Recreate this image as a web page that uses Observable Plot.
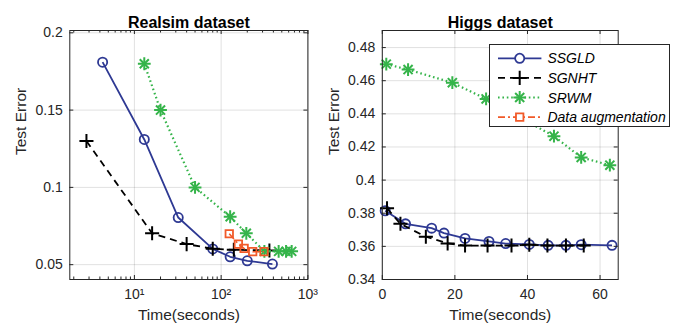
<!DOCTYPE html>
<html><head><meta charset="utf-8">
<script src="https://cdn.jsdelivr.net/npm/d3@7"></script>
<script src="https://cdn.jsdelivr.net/npm/@observablehq/plot@0.6"></script>
<style>
body{margin:0;background:#fff;}
#wrap{position:relative;width:679px;height:331px;font-family:"Liberation Sans",Arial,sans-serif;overflow:hidden;}
#wrap .p{position:absolute;top:0;}
#legend{position:absolute;left:489px;top:44px;}
</style></head><body><div id="wrap"></div>
<script>
// ---------- data ----------
const seriesNames = ["SSGLD", "SGNHT", "SRWM", "Data augmentation"];

// Realsim dataset: [time (s), test error]
const realsimSSGLD   = [[4.3,0.181],[13,0.131],[32,0.0805],[80,0.0602],[127,0.0551],[200,0.0525],[390,0.0504]];
const realsimSGNHT   = [[2.8,0.13],[16,0.0703],[40,0.0633],[80,0.0603],[140,0.0596],[360,0.0592]];
const realsimSRWM    = [[13,0.18],[20,0.15],[50,0.1],[127,0.081],[195,0.0703],[315,0.0586],[460,0.0586],[560,0.0586],[650,0.0586]];
const realsimDataAug = [[124,0.07],[158,0.0633],[184,0.0605],[231,0.0584],[312,0.0584]];

// Higgs dataset: [time (s), test error]
const higgsSSGLD = [[0.8,0.3815],[6.4,0.3736],[13.6,0.371],[17,0.368],[22.8,0.3648],[29.4,0.363],[34,0.3617],[40.5,0.3612],[45.7,0.3606],[50.6,0.3606],[54.8,0.361],[63.3,0.3606]];
const higgsSGNHT = [[1.3,0.383],[5,0.3736],[12,0.3658],[18,0.3618],[22.8,0.3605],[29,0.3605],[35.6,0.3605],[40.5,0.361],[45.5,0.3605],[50.6,0.3605],[55.5,0.3605]];
const higgsSRWM  = [[1.1,0.470],[7.1,0.4667],[19.3,0.4588],[28.6,0.449],[47.3,0.4265],[54.8,0.4137],[62.7,0.409]];

// ticks
const xMajorRealsim = [10, 100, 1000];
const xMinorRealsim = [2,3,4,5,6,7,8,9,20,30,40,50,60,70,80,90,200,300,400,500,600,700,800,900];
const yTicksRealsim = [0.05, 0.1, 0.15, 0.2];
const xTicksHiggs = [0, 20, 40, 60];
const yTicksHiggs = [0.34, 0.36, 0.38, 0.4, 0.42, 0.44, 0.46, 0.48];
const superscripts = {1: "¹", 2: "²", 3: "³"};

const titles = ["Realsim dataset", "Higgs dataset"];
const xLabel = "Time(seconds)";
const yLabel = "Test Error";

// ---------- styles ----------
const styles = {
  "SSGLD": {stroke: "#2e3993", dash: null, width: 1.8, symbols: ["circle"], r: 4.6, sw: 1.8},
  "SGNHT": {stroke: "#000000", dash: "7,5", width: 1.8, symbols: ["plus"], r: 4.6, sw: 2},
  "SRWM": {stroke: "#35b44a", dash: "1.6,2.8", width: 2.2, symbols: ["plus", "times"], r: 4.2, sw: 2},
  "Data augmentation": {stroke: "#f15a29", dash: "7,3,2,3", width: 1.6, symbols: ["square"], r: 4.2, sw: 1.8}
};
const INK = "#262626";
const fmtDec = d => String(+d.toFixed(3));

function toRows(name, arr) { return arr.map(([t, e]) => ({series: name, t, e})); }

function panel({title, width, ml, mr, x, y, xMajor, xMinor, yTicks, xFmt, series}) {
  const H = 331, mt = 30, mb = 52;
  const ih = H - mt - mb, iw = width - ml - mr;
  const tl = 4, tm = 2.5;
  const marks = [
    Plot.gridX(xMajor, {stroke: "#000", strokeOpacity: 0.12}),
    Plot.gridY(yTicks, {stroke: "#000", strokeOpacity: 0.12})
  ];
  for (const [name, arr] of series) {
    const s = styles[name];
    const rows = toRows(name, arr);
    marks.push(Plot.line(rows, {x: "t", y: "e", stroke: s.stroke, strokeWidth: s.width, strokeDasharray: s.dash, strokeLinecap: "butt"}));
    for (const sym of s.symbols) {
      marks.push(Plot.dot(rows, {x: "t", y: "e", symbol: sym, r: s.r, stroke: s.stroke, strokeWidth: s.sw, fill: "none"}));
    }
  }
  // inward ticks on all four sides
  const tickStyle = {stroke: INK, strokeWidth: 1};
  marks.push(
    Plot.ruleX(xMajor, {...tickStyle, insetTop: ih - tl}),
    Plot.ruleX(xMajor, {...tickStyle, insetBottom: ih - tl}),
    Plot.ruleY(yTicks, {...tickStyle, insetRight: iw - tl}),
    Plot.ruleY(yTicks, {...tickStyle, insetLeft: iw - tl})
  );
  if (xMinor) marks.push(
    Plot.ruleX(xMinor, {...tickStyle, insetTop: ih - tm}),
    Plot.ruleX(xMinor, {...tickStyle, insetBottom: ih - tm})
  );
  marks.push(
    Plot.frame({stroke: INK, strokeWidth: 1}),
    Plot.axisX(xMajor, {anchor: "bottom", tickSize: 0, tickPadding: 10, tickFormat: xFmt, fontSize: 14, fill: INK, label: null}),
    Plot.axisY(yTicks, {anchor: "left", tickSize: 0, tickPadding: 7, tickFormat: fmtDec, fontSize: 14, fill: INK, label: null}),
    Plot.text([xLabel], {text: d => d, frameAnchor: "bottom", dy: 40.5, fontSize: 15.5, fill: INK}),
    Plot.text([yLabel], {text: d => d, frameAnchor: "left", dx: -48.6, rotate: -90, fontSize: 15.5, fill: INK}),
    Plot.text([title], {text: d => d, frameAnchor: "top", dy: -14, fontSize: 16, fontWeight: "bold", fill: "#000"})
  );
  return Plot.plot({
    width, height: H, marginLeft: ml, marginRight: mr, marginTop: mt, marginBottom: mb,
    x, y,
    style: {fontFamily: '"Liberation Sans", Arial, sans-serif', background: "transparent", color: INK, overflow: "visible"},
    marks
  });
}

const wrap = document.getElementById("wrap");

const left = panel({
  title: titles[0], width: 340, ml: 69.3, mr: 32.6,
  x: {type: "log", domain: [1.8, 1000], axis: null},
  y: {domain: [0.0404, 0.2015], axis: null},
  xMajor: xMajorRealsim, xMinor: xMinorRealsim, yTicks: yTicksRealsim,
  xFmt: d => "10" + superscripts[Math.round(Math.log10(d))],
  series: [["SSGLD", realsimSSGLD], ["SGNHT", realsimSGNHT], ["SRWM", realsimSRWM], ["Data augmentation", realsimDataAug]]
});
left.classList.add("p"); left.style.left = "0px";
wrap.appendChild(left);

const right = panel({
  title: titles[1], width: 339, ml: 41.8, mr: 61.3,
  x: {domain: [0, 65], axis: null},
  y: {domain: [0.34, 0.4903], axis: null},
  xMajor: xTicksHiggs, xMinor: null, yTicks: yTicksHiggs,
  xFmt: d => String(d),
  series: [["SSGLD", higgsSSGLD], ["SGNHT", higgsSGNHT], ["SRWM", higgsSRWM]]
});
right.classList.add("p"); right.style.left = "340px";
wrap.appendChild(right);

// ---------- legend ----------
const LW = 181, LH = 83, rowH = 19.6, row0 = 14.3;
const lg = d3.select(wrap).append("svg").attr("id", "legend").attr("width", LW).attr("height", LH);
lg.append("rect").attr("x", 0.5).attr("y", 0.5).attr("width", LW - 1).attr("height", LH - 1)
  .attr("fill", "#fff").attr("stroke", INK);
const symMap = {circle: d3.symbolCircle, plus: d3.symbolPlus, times: d3.symbolTimes, square: d3.symbolSquare};
seriesNames.forEach((name, i) => {
  const s = styles[name];
  const cy = row0 + i * rowH;
  const g = lg.append("g");
  g.append("line").attr("x1", 9).attr("x2", 52.4).attr("y1", cy).attr("y2", cy)
    .attr("stroke", s.stroke).attr("stroke-width", s.width).attr("stroke-dasharray", s.dash);
  for (const sym of s.symbols) {
    g.append("path").attr("transform", `translate(30.7,${cy})`)
      .attr("d", d3.symbol(symMap[sym], Math.PI * s.r * s.r)())
      .attr("fill", sym === "circle" || sym === "square" ? "#fff" : "none")
      .attr("stroke", s.stroke).attr("stroke-width", s.sw);
  }
  g.append("text").attr("x", 58.4).attr("y", cy).attr("dy", "0.36em")
    .attr("font-size", 14).attr("font-style", "italic").attr("fill", "#000")
    .attr("font-family", '"Liberation Sans", Arial, sans-serif').text(name);
});
</script></body></html>
